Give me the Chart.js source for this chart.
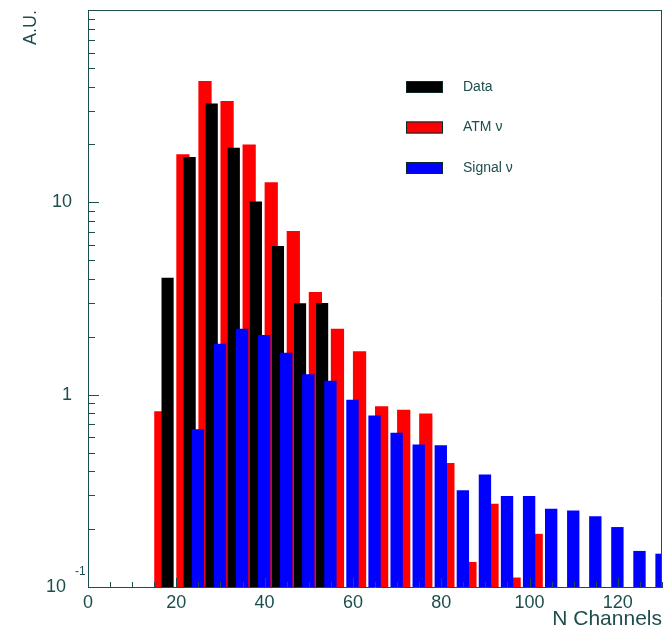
<!DOCTYPE html>
<html><head><meta charset="utf-8">
<script src="https://cdn.jsdelivr.net/npm/chart.js@4.4.1/dist/chart.umd.min.js"></script>
<style>html,body{margin:0;padding:0;background:#fff;}canvas{display:block;}</style>
</head><body>
<canvas id="c" width="664" height="632"></canvas>
<script>
// ---- data ----
const binLow = [15,20,25,30,35,40,45,50,55,60,65,70,75,80,85,90,95,100,105,110,115,120,125];
const binWidth = 5;
const dataVals   = [4.06,17.2,32.6,19.2,10.1,5.93,2.99,3.0,null,null,null,null,null,null,null,null,null,null,null,null,null,null,null];
const atmVals    = [0.82,17.8,42.7,33.6,20.0,12.7,7.1,3.42,2.20,1.68,0.87,0.836,0.797,0.441,0.135,0.271,0.112,0.189,null,null,null,null,null];
const signalVals = [null,0.66,1.84,2.20,2.04,1.65,1.275,1.18,0.94,0.78,0.634,0.551,0.545,0.318,0.384,0.297,0.297,0.255,0.250,0.233,0.205,0.154,0.149];
const seriesNames = ['Data', 'ATM \u03bd', 'Signal \u03bd'];
const xTickVals = [0,20,40,60,80,100,120];
const yTickVals = [0.1,1,10,100];
const yTickLabels = ['', '1', '10', ''];
const yLowBase = '10', yLowExp = '-1';
const xTitle = 'N Channels', yTitle = 'A.U.';

// ---- style ----
const FONT = '"Liberation Sans", Arial, Helvetica, sans-serif';
const INK = '#1d4e4e';
const styles = [
  {offset:0.33, width:0.55, color:'#000000', axis:'x',  order:1},
  {offset:0.0,  width:0.60, color:'#ff0000', axis:'x2', order:2},
  {offset:0.70, width:0.56, color:'#0000ff', axis:'x3', order:0}
];
const allVals = [dataVals, atmVals, signalVals];

function points(vals, st){
  return binLow.map((b,i)=>({x: b + (st.offset + st.width/2)*binWidth, y: vals[i]}));
}
const datasets = allVals.map((vals,k)=>({
  label: seriesNames[k],
  data: points(vals, styles[k]),
  backgroundColor: styles[k].color,
  borderWidth: 0,
  xAxisID: styles[k].axis,
  order: styles[k].order,
  grouped: false,
  categoryPercentage: 1.0,
  barPercentage: styles[k].width
}));

function setXTicks(s){ s.ticks = xTickVals.map(v=>({value:v})); }
function noPad(s){ s.paddingTop = 0; s.paddingBottom = 0; s.paddingLeft = 0; s.paddingRight = 0; }
const hiddenX = {type:'linear', min:0, max:130, offset:false, display:false, afterBuildTicks:setXTicks, afterFit:noPad};

const decorPlugin = {
  id:'decor',
  afterDatasetsDraw(chart){
    const ctx = chart.ctx, a = chart.chartArea, xs = chart.scales.x, ys = chart.scales.y;
    ctx.save();
    ctx.strokeStyle = INK; ctx.lineWidth = 1;
    ctx.beginPath();
    for (let v = 0; v <= 130; v += 5){
      const px = Math.round(xs.getPixelForValue(v)) + 0.5;
      const len = (v % 20 === 0) ? 9 : 5;
      ctx.moveTo(px, a.bottom); ctx.lineTo(px, a.bottom - len);
    }
    for (let d = 0.1; d < 100; d *= 10){
      for (let m = 1; m <= 9; m++){
        const v = d*m;
        const py = Math.round(ys.getPixelForValue(v)) + 0.5;
        const len = (m === 1) ? 11 : 7;
        ctx.moveTo(a.left, py); ctx.lineTo(a.left + len, py);
      }
    }
    ctx.moveTo(a.left, a.top + 0.5); ctx.lineTo(a.right, a.top + 0.5);
    ctx.moveTo(a.right - 0.5, a.top); ctx.lineTo(a.right - 0.5, a.bottom);
    ctx.stroke();
    ctx.restore();
  },
  afterDraw(chart){
    const ctx = chart.ctx, ys = chart.scales.y;
    ctx.save();
    ctx.fillStyle = INK;
    const py = ys.getPixelForValue(yTickVals[0]);
    ctx.font = '18px ' + FONT; ctx.textAlign = 'right'; ctx.textBaseline = 'middle';
    ctx.fillText(yLowBase, 66, py);
    ctx.font = '12px ' + FONT; ctx.textAlign = 'left';
    ctx.fillText(yLowExp, 75, py - 15);
    chart.data.datasets.forEach((d,i)=>{
      const y = 81 + i*40.5;
      ctx.fillStyle = d.backgroundColor;
      ctx.fillRect(406, y, 37, 12);
      ctx.strokeStyle = '#0a2a2a'; ctx.lineWidth = 1;
      ctx.strokeRect(406.5, y+0.5, 36, 11);
      ctx.fillStyle = INK;
      ctx.font = '14px ' + FONT; ctx.textAlign = 'left'; ctx.textBaseline = 'middle';
      ctx.fillText(d.label, 463, y + 6);
    });
    ctx.restore();
  }
};

new Chart(document.getElementById('c'), {
  type:'bar',
  data:{datasets},
  plugins:[decorPlugin],
  options:{
    responsive:false,
    devicePixelRatio:1,
    animation:false,
    layout:{padding:{top:10, right:2, left:0, bottom:0}},
    plugins:{legend:{display:false}, tooltip:{enabled:false}},
    scales:{
      x:{
        type:'linear', min:0, max:130, position:'bottom', offset:false,
        afterBuildTicks:setXTicks,
        afterFit:(s)=>{ s.height = 45; noPad(s); },
        grid:{drawOnChartArea:false, drawTicks:false, offset:false},
        border:{display:true, color:INK, width:1},
        ticks:{color:INK, font:{family:FONT, size:18}, padding:5, maxRotation:0, autoSkip:false},
        title:{display:true, text:xTitle, align:'end', color:INK, font:{family:FONT, size:21}, padding:{top:0,bottom:0}}
      },
      x2:hiddenX,
      x3:hiddenX,
      y:{
        type:'logarithmic', min:0.1, max:100, position:'left',
        afterBuildTicks:(s)=>{ s.ticks = yTickVals.map(v=>({value:v})); },
        afterFit:(s)=>{ s.width = 88; noPad(s); },
        grid:{drawOnChartArea:false, drawTicks:false},
        border:{display:true, color:INK, width:1},
        ticks:{color:INK, font:{family:FONT, size:18}, padding:16, autoSkip:false,
               callback:(v,i)=> yTickLabels[i]},
        title:{display:true, text:yTitle, align:'end', color:INK, font:{family:FONT, size:18}, padding:{top:20,bottom:0}}
      }
    }
  }
});
</script>
</body></html>
